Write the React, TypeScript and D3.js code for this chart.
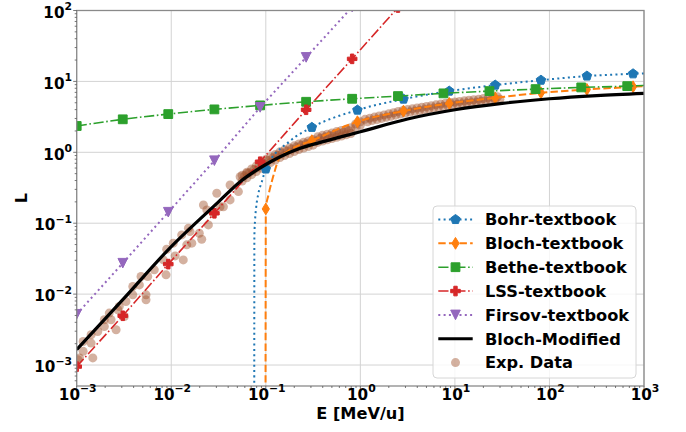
import React from 'react';
import * as d3 from 'd3';

const W = 686, H = 432;
const PL = 76.7, PR = 644, PT = 10.5, PB = 386;

// ---------- axis ticks ----------
const xTickVals = [1e-3, 1e-2, 1e-1, 1, 10, 100, 1000];
const xTickExps = ['\u22123', '\u22122', '\u22121', '0', '1', '2', '3'];
const yTickVals = [1e-3, 1e-2, 1e-1, 1, 10, 100];
const yTickExps = ['\u22123', '\u22122', '\u22121', '0', '1', '2'];

// ---------- Bohr-textbook ----------
const bohrLineE = [0.07545, 0.0757, 0.077, 0.0789, 0.0836, 0.0908, 0.1, 0.18, 0.307, 0.931, 2.86, 8.71, 26.7, 81.3, 249, 766, 1000];
const bohrLineL = [2e-4, 0.065, 0.111, 0.163, 0.265, 0.385, 0.582, 1.44, 2.25, 3.94, 5.63, 7.3, 8.87, 10.4, 11.9, 12.8, 12.97];
const bohrMarkE = [0.1, 0.307, 0.931, 2.86, 8.71, 26.7, 81.3, 249, 766];
const bohrMarkL = [0.582, 2.25, 3.94, 5.63, 7.3, 8.87, 10.4, 11.9, 12.8];

// ---------- Bloch-textbook ----------
const blochLineE = [0.0993, 0.0998, 0.1, 0.1067, 0.1156, 0.1253, 0.136, 0.1807, 0.307, 0.931, 2.86, 8.71, 26.7, 81.3, 249, 766, 1000];
const blochLineL = [2e-4, 0.05, 0.159, 0.25, 0.385, 0.563, 0.78, 1.08, 1.46, 2.7, 3.82, 4.9, 5.87, 6.91, 7.71, 8.4, 8.6];
const blochMarkE = [0.1, 0.307, 0.931, 2.86, 8.71, 26.7, 81.3, 249, 766];
const blochMarkL = [0.159, 1.46, 2.7, 3.82, 4.9, 5.87, 6.91, 7.71, 8.4];

// ---------- Bethe-textbook ----------
const betheE = [0.001, 0.00307, 0.0093, 0.0286, 0.0871, 0.267, 0.819, 2.5, 7.57, 23.2, 71.3, 217, 665, 1000];
const betheL = [2.35, 2.92, 3.46, 4.03, 4.59, 5.16, 5.69, 6.21, 6.78, 7.3, 7.79, 8.23, 8.58, 8.78];

// ---------- LSS-textbook ----------
const lssE = [0.001, 0.00307, 0.0093, 0.0286, 0.0871, 0.267, 0.819, 2.5];
const lssL = [9.5e-4, 4.95e-3, 0.0265, 0.138, 0.737, 3.98, 20.8, 110];

// ---------- Firsov-textbook ----------
const firsovE = [0.001, 0.00307, 0.0093, 0.0286, 0.0871, 0.267, 0.819];
const firsovL = [5.2e-3, 0.0273, 0.143, 0.762, 4.3, 21.8, 112];

// ---------- Bloch-Modified ----------
const bmE = [0.001, 0.00316, 0.01, 0.0316, 0.0535, 0.1, 0.142, 0.231, 0.376, 1, 3.16, 10, 31.6, 100, 316, 1000];
const bmL = [0.00165, 0.0087, 0.0468, 0.2, 0.385, 0.673, 0.867, 1.14, 1.38, 1.95, 2.95, 3.98, 4.9, 5.69, 6.31, 6.79];

// ---------- Exp. Data ----------
const expLowE = [1.03e-3, 1.07e-3, 1.17e-3, 1.17e-3, 1.42e-3, 1.48e-3, 1.42e-3, 1.67e-3, 1.96e-3, 1.96e-3,
  2.21e-3, 2.31e-3, 2.61e-3, 2.72e-3, 2.82e-3, 3.32e-3, 3.19e-3, 3.92e-3, 3.92e-3, 4.6e-3,
  5.41e-3, 5.41e-3, 4.79e-3, 5.64e-3, 6.62e-3, 8.81e-3, 8.24e-3, 8.95e-3, 0.0105, 0.011,
  0.0134, 0.0129, 0.0158, 0.0165, 0.0198, 0.021, 0.0247, 0.0279, 0.0328, 0.0419,
  0.0146, 0.0152, 0.0238, 0.0356, 0.0513, 0.0219, 0.0303, 0.0419, 0.0535, 0.063];
const expLowL = [1.19e-3, 1.26e-3, 1.56e-3, 2.15e-3, 2.04e-3, 1.26e-3, 2.67e-3, 2.97e-3, 3.5e-3, 4.35e-3,
  5.4e-3, 4.35e-3, 3.14e-3, 6.01e-3, 6.68e-3, 7.87e-3, 4.84e-3, 9.77e-3, 0.0128, 0.0135,
  9.77e-3, 8.31e-3, 0.0177, 0.0177, 0.022, 0.0187, 0.0304, 0.043, 0.0523, 0.0346,
  0.0304, 0.0684, 0.0762, 0.0523, 0.0723, 0.0595, 0.0946, 0.138, 0.171, 0.213,
  0.0495, 0.0851, 0.154, 0.171, 0.279, 0.181, 0.265, 0.346, 0.453, 0.506];

const expMidE = [0.0562, 0.0631, 0.0708, 0.0794, 0.0891, 0.1, 0.112, 0.126, 0.141, 0.158, 0.178, 0.2, 0.224, 0.251, 0.282, 0.316, 0.355, 0.398, 0.447, 0.501, 0.562, 0.631, 0.708, 0.794,
  0.0562, 0.0631, 0.0708, 0.0794, 0.0891, 0.1, 0.112, 0.126, 0.141, 0.158, 0.178, 0.2, 0.224, 0.251, 0.282, 0.316, 0.355, 0.398, 0.447, 0.501, 0.562, 0.631, 0.708, 0.794,
  0.0596, 0.0668, 0.075, 0.0841, 0.0944, 0.106, 0.119, 0.133, 0.15, 0.168, 0.188, 0.211, 0.237, 0.266, 0.299, 0.335, 0.376, 0.422, 0.473, 0.531, 0.596, 0.668, 0.75,
  0.891, 0.891, 1.0, 1.0];
const expMidL = [0.474, 0.525, 0.582, 0.644, 0.714, 0.791, 0.859, 0.933, 1.016, 1.084, 1.156, 1.233, 1.315, 1.384, 1.449, 1.517, 1.66, 1.734, 1.803, 1.879, 1.959, 2.037, 2.123, 2.213,
  0.394, 0.437, 0.484, 0.536, 0.594, 0.658, 0.714, 0.776, 0.845, 0.902, 0.962, 1.026, 1.094, 1.151, 1.205, 1.262, 1.38, 1.442, 1.5, 1.563, 1.629, 1.694, 1.766, 1.841,
  0.466, 0.515, 0.571, 0.632, 0.701, 0.769, 0.836, 0.908, 0.979, 1.045, 1.114, 1.189, 1.259, 1.321, 1.384, 1.445, 1.585, 1.648, 1.718, 1.791, 1.862, 1.941, 2.023,
  2.24, 2.51, 2.4, 2.69];

const expHighE = [1.12, 1.26, 1.41, 1.58, 1.78, 2.0, 2.24, 2.51, 2.82, 3.16, 3.55, 3.98, 4.47, 5.01, 5.62, 6.31, 7.08, 7.94, 8.91, 10, 11.2, 12.6, 14.1, 15.8, 17.8, 20, 22.4, 25.1, 28.2,
  1.19, 1.33, 1.5, 1.68, 1.88, 2.11, 2.37, 2.66, 2.99, 3.35, 3.76, 4.22, 4.73, 5.31, 5.96, 6.68, 7.5, 8.41, 9.44, 10.6, 11.9, 13.3, 15.0, 16.8, 18.8, 21.1, 23.7, 26.6, 29.9];
const expHighL = [2.92, 3.03, 3.14, 3.26, 3.37, 3.5, 3.62, 3.76, 3.89, 4.0, 4.1, 4.21, 4.32, 4.43, 4.55, 4.67, 4.79, 4.91, 5.04, 5.13, 5.22, 5.32, 5.42, 5.52, 5.62, 5.73, 5.85, 5.96, 6.07,
  2.7, 2.8, 2.9, 3.01, 3.11, 3.23, 3.34, 3.47, 3.59, 3.69, 3.78, 3.89, 3.99, 4.09, 4.2, 4.31, 4.42, 4.53, 4.65, 4.74, 4.82, 4.91, 5.0, 5.1, 5.19, 5.29, 5.4, 5.5, 5.6];

const legendLabels = ['Bohr-textbook', 'Bloch-textbook', 'Bethe-textbook', 'LSS-textbook', 'Firsov-textbook', 'Bloch-Modified', 'Exp. Data'];

// ---------- styling ----------
const C = { bohr: '#1f77b4', bloch: '#ff7f0e', bethe: '#2ca02c', lss: '#d62728', firsov: '#9467bd', bm: '#000000', exp: '#a0522d' };
const EXP_OP = 0.45;
const EXP_R = 4.5;
const FONT = 'DejaVu Sans, sans-serif';

const xS = d3.scaleLog().domain([1e-3, 1e3]).range([PL, PR]);
const yS = d3.scaleLog().domain([5.06e-4, 100]).range([PB, PT]);

const zip = (E: number[], L: number[]) => E.map((e, i) => [e, L[i]] as [number, number]);

const smoothLine = d3.line<[number, number]>().x(d => xS(d[0])).y(d => yS(d[1])).curve(d3.curveMonotoneX);
const straightLine = d3.line<[number, number]>().x(d => xS(d[0])).y(d => yS(d[1]));

// marker paths centred at 0,0
const pentagon = (r: number) => {
  const pts = d3.range(5).map(k => {
    const a = (-90 + k * 72) * Math.PI / 180;
    return [r * Math.cos(a), r * Math.sin(a)];
  });
  return 'M' + pts.map(p => p.join(',')).join('L') + 'Z';
};
const thinDiamond = (w: number, h: number) => `M0,${-h}L${w},0L0,${h}L${-w},0Z`;
const square = (s: number) => `M${-s},${-s}L${s},${-s}L${s},${s}L${-s},${s}Z`;
const plusFilled = (s: number, a: number) =>
  `M${-a},${-s}L${a},${-s}L${a},${-a}L${s},${-a}L${s},${a}L${a},${a}L${a},${s}L${-a},${s}L${-a},${a}L${-s},${a}L${-s},${-a}L${-a},${-a}Z`;
const triDown = (s: number) => `M0,${s}L${-s},${-s}L${s},${-s}Z`;

const MARK = {
  bohr: pentagon(5.0),
  bloch: thinDiamond(3.6, 5.9),
  bethe: square(4.4),
  lss: plusFilled(4.8, 1.7),
  firsov: triDown(4.8),
};

const DASH = {
  bohr: '2,3.3',
  bloch: '7.4,3.2',
  bethe: '10.2,2.6,1.6,2.6',
  lss: '10.2,2.6,1.6,2.6',
  firsov: '2,3.3',
};

function Markers({ E, L, path, color }: { E: number[]; L: number[]; path: string; color: string }) {
  return (
    <g>
      {E.map((e, i) => (
        <path key={i} d={path} transform={`translate(${xS(e)},${yS(L[i])})`} fill={color} stroke={color} strokeWidth={1} />
      ))}
    </g>
  );
}

function TickLabel({ x, y, exp, anchor }: { x: number; y: number; exp: string; anchor: 'middle' | 'end' }) {
  return (
    <text x={x} y={y} textAnchor={anchor} fontFamily={FONT} fontWeight="bold" fontSize={15.2} fill="#000">
      <tspan>10</tspan>
      <tspan dy={-7.5} fontSize={10.8}>{exp}</tspan>
    </text>
  );
}

export default function App() {
  const minorX: number[] = [];
  for (let p = -3; p < 3; p++) for (let m = 2; m <= 9; m++) minorX.push(m * Math.pow(10, p));
  const minorY: number[] = [];
  for (let p = -4; p < 2; p++) for (let m = 2; m <= 9; m++) {
    const v = m * Math.pow(10, p);
    if (v >= 5.06e-4 && v <= 100) minorY.push(v);
  }

  const legendX0 = 438.3, legendX1 = 472.7, legendMX = 455.5, legendTX = 485;
  const rowY = (i: number) => 219.5 + i * 23.85;

  const legendItems = [
    { key: 'bohr', color: C.bohr, dash: DASH.bohr, mark: MARK.bohr, w: 2 },
    { key: 'bloch', color: C.bloch, dash: DASH.bloch, mark: MARK.bloch, w: 2 },
    { key: 'bethe', color: C.bethe, dash: DASH.bethe, mark: MARK.bethe, w: 1.6 },
    { key: 'lss', color: C.lss, dash: DASH.lss, mark: MARK.lss, w: 1.6 },
    { key: 'firsov', color: C.firsov, dash: DASH.firsov, mark: MARK.firsov, w: 2 },
  ];

  return (
    <svg width={W} height={H} style={{ position: 'absolute', left: 0, top: 0, background: '#fff' }}>
      <defs>
        <clipPath id="plotClip">
          <rect x={PL} y={PT} width={PR - PL} height={PB - PT} />
        </clipPath>
      </defs>
      <rect x={0} y={0} width={W} height={H} fill="#fff" />

      {/* grid */}
      <g>
        {xTickVals.map((v, i) => (
          <line key={'gx' + i} x1={xS(v)} x2={xS(v)} y1={PT} y2={PB} stroke="#d3d3d3" strokeWidth={1} />
        ))}
        {yTickVals.map((v, i) => (
          <line key={'gy' + i} x1={PL} x2={PR} y1={yS(v)} y2={yS(v)} stroke="#d3d3d3" strokeWidth={1} />
        ))}
      </g>

      <g clipPath="url(#plotClip)">
        {/* experimental data */}
        <g fill={C.exp} fillOpacity={EXP_OP}>
          {zip(expLowE, expLowL).map((d, i) => <circle key={'l' + i} cx={xS(d[0])} cy={yS(d[1])} r={EXP_R} />)}
          {zip(expMidE, expMidL).map((d, i) => <circle key={'m' + i} cx={xS(d[0])} cy={yS(d[1])} r={EXP_R} />)}
          {zip(expHighE, expHighL).map((d, i) => <circle key={'h' + i} cx={xS(d[0])} cy={yS(d[1])} r={EXP_R} />)}
        </g>

        {/* theory lines */}
        <path d={smoothLine(zip(bohrLineE, bohrLineL)) || ''} fill="none" stroke={C.bohr} strokeWidth={2} strokeDasharray={DASH.bohr} />
        <Markers E={bohrMarkE} L={bohrMarkL} path={MARK.bohr} color={C.bohr} />

        <path d={smoothLine(zip(blochLineE, blochLineL)) || ''} fill="none" stroke={C.bloch} strokeWidth={2} strokeDasharray={DASH.bloch} />
        <Markers E={blochMarkE} L={blochMarkL} path={MARK.bloch} color={C.bloch} />

        <path d={smoothLine(zip(betheE, betheL)) || ''} fill="none" stroke={C.bethe} strokeWidth={1.6} strokeDasharray={DASH.bethe} />
        <Markers E={betheE.slice(0, 13)} L={betheL.slice(0, 13)} path={MARK.bethe} color={C.bethe} />

        <path d={straightLine(zip(lssE, lssL)) || ''} fill="none" stroke={C.lss} strokeWidth={1.6} strokeDasharray={DASH.lss} />
        <Markers E={lssE} L={lssL} path={MARK.lss} color={C.lss} />

        <path d={straightLine(zip(firsovE, firsovL)) || ''} fill="none" stroke={C.firsov} strokeWidth={2} strokeDasharray={DASH.firsov} />
        <Markers E={firsovE} L={firsovL} path={MARK.firsov} color={C.firsov} />

        <path d={smoothLine(zip(bmE, bmL)) || ''} fill="none" stroke={C.bm} strokeWidth={3.2} />
      </g>

      {/* spines */}
      <rect x={PL} y={PT} width={PR - PL} height={PB - PT} fill="none" stroke="#8a8a8a" strokeWidth={1.3} />

      {/* ticks */}
      <g stroke="#555" strokeWidth={0.8}>
        {xTickVals.map((v, i) => <line key={'tx' + i} x1={xS(v)} x2={xS(v)} y1={PB} y2={PB + 3.5} />)}
        {minorX.map((v, i) => <line key={'mx' + i} x1={xS(v)} x2={xS(v)} y1={PB} y2={PB + 2} />)}
        {yTickVals.map((v, i) => <line key={'ty' + i} x1={PL} x2={PL - 3.5} y1={yS(v)} y2={yS(v)} />)}
        {minorY.map((v, i) => <line key={'my' + i} x1={PL} x2={PL - 2} y1={yS(v)} y2={yS(v)} />)}
      </g>

      {/* tick labels */}
      {xTickVals.map((v, i) => <TickLabel key={'xl' + i} x={xS(v) + 1} y={PB + 13.5} exp={xTickExps[i]} anchor="middle" />)}
      {yTickVals.map((v, i) => <TickLabel key={'yl' + i} x={72} y={yS(v) + 7.2} exp={yTickExps[i]} anchor="end" />)}

      {/* axis labels */}
      <text x={360.5} y={419} textAnchor="middle" fontFamily={FONT} fontWeight="bold" fontSize={16.2}>E [MeV/u]</text>
      <text transform={`translate(27,198) rotate(-90)`} textAnchor="middle" fontFamily={FONT} fontWeight="bold" fontSize={16.2}>L</text>

      {/* legend */}
      <g>
        <rect x={433} y={206} width={203} height={172} rx={4} fill="#fff" fillOpacity={0.8} stroke="#d6d6d6" strokeWidth={1} />
        {legendItems.map((it, i) => (
          <g key={it.key}>
            <line x1={legendX0} x2={legendX1} y1={rowY(i)} y2={rowY(i)} stroke={it.color} strokeWidth={it.w} strokeDasharray={it.dash} />
            <path d={it.mark} transform={`translate(${legendMX},${rowY(i)})`} fill={it.color} stroke={it.color} strokeWidth={1} />
          </g>
        ))}
        <line x1={legendX0} x2={legendX1} y1={rowY(5)} y2={rowY(5)} stroke={C.bm} strokeWidth={3.2} />
        <circle cx={legendMX} cy={rowY(6)} r={EXP_R} fill={C.exp} fillOpacity={EXP_OP} />
        {legendLabels.map((t, i) => (
          <text key={t} x={legendTX} y={rowY(i)} dy="0.36em" fontFamily={FONT} fontWeight="bold" fontSize={16.2}>{t}</text>
        ))}
      </g>
    </svg>
  );
}
